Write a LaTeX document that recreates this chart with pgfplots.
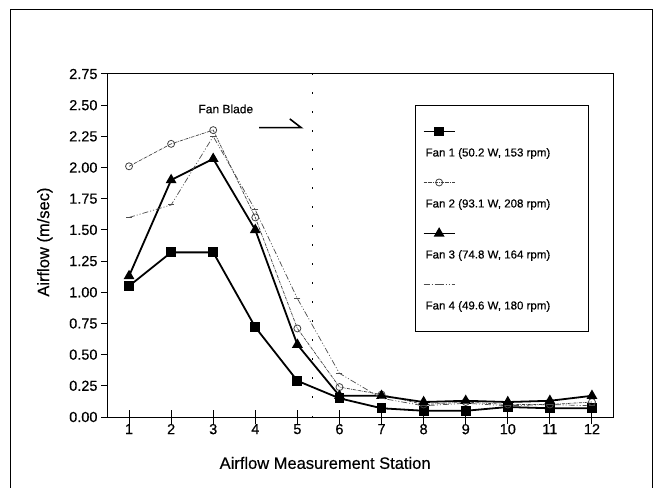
\documentclass[border=0pt]{standalone}
\usepackage{fontspec}
\setmainfont{Liberation Sans}[UprightFeatures={FakeBold=0.4}]
\usepackage{pgfplots}
\pgfplotsset{compat=1.18}
\begin{document}
\begin{tikzpicture}[x=1pt,y=1pt]
\useasboundingbox (0,0) rectangle (657,488);
\draw[line width=1pt] (10,-5) -- (10,478) -- (652,478) -- (652,-5);
\begin{axis}[
  at={(108pt,71pt)}, anchor=south west,
  scale only axis, width=505pt, height=343pt,
  xmin=0.5, xmax=12.5, ymin=0, ymax=2.75,
  xtick={1,2,3,4,5,6,7,8,9,10,11,12},
  ytick={0,0.25,0.5,0.75,1,1.25,1.5,1.75,2,2.25,2.5,2.75},
  axis line style={line width=1pt},
  tick style={line width=1pt, black},
  major tick length=7pt,
  xtick align=center, ytick align=outside,
  xtick pos=bottom, ytick pos=left,
  xtick style={/pgfplots/major tick length=14pt},
  tick label style={font=\fontsize{14.5}{16}\selectfont},
  /pgf/number format/assume math mode=true,
  yticklabel style={/pgf/number format/.cd, fixed, fixed zerofill, precision=2},
  xticklabel style={/pgf/number format/.cd, fixed, precision=0},
  xlabel={Airflow Measurement Station},
  ylabel={Airflow (m/sec)},
  label style={font=\fontsize{16.5}{19}\selectfont},
  xlabel style={at={(axis description cs:0.43,-0.134)}, anchor=center},
  ylabel style={at={(axis description cs:-0.125,0.51)}, anchor=center},
  legend style={at={(rel axis cs:0.608,0.910)}, anchor=north west,
    draw=black, line width=1.2pt, inner xsep=10pt, inner ysep=19pt,
    row sep=16pt, column sep=0pt,
    font=\fontsize{11.5}{13}\selectfont,
    cells={anchor=base west},
    nodes={inner sep=0pt, text height=32pt, text depth=3pt, anchor=base west}},
  legend image code/.code={\draw[mark repeat=2,mark phase=2,#1,overlay] plot coordinates {(-2pt,25pt) (13.5pt,25pt) (29pt,25pt)};},
]
\addplot[black, line width=1.8pt, mark=square*, mark size=4pt, mark options={solid}]
  coordinates {(1,1.05)(2,1.32)(3,1.32)(4,0.72)(5,0.29)(6,0.15)(7,0.07)(8,0.05)(9,0.05)(10,0.08)(11,0.07)(12,0.07)};
\addlegendentry{Fan 1 (50.2 W, 153 rpm)\hspace*{28pt}}
\addplot[black!75, line width=0.7pt, densely dash dot, mark=o, mark size=3.5pt, mark options={solid, line width=0.8pt}]
  coordinates {(1,2.01)(2,2.19)(3,2.30)(4,1.60)(5,0.71)(6,0.24)(7,0.18)(8,0.10)(9,0.12)(10,0.10)(11,0.10)(12,0.12)};
\addlegendentry{Fan 2 (93.1 W, 208 rpm)}
\addplot[black, line width=1.8pt, mark=triangle*, mark size=4.5pt, mark options={solid}]
  coordinates {(1,1.13)(2,1.90)(3,2.07)(4,1.50)(5,0.58)(6,0.17)(7,0.17)(8,0.12)(9,0.13)(10,0.12)(11,0.13)(12,0.17)};
\addlegendentry{Fan 3 (74.8 W, 164 rpm)}
\addplot[black!70, line width=0.7pt, dash pattern=on 6pt off 2pt on 1pt off 2pt on 1pt off 2pt, mark=-, mark size=3pt, mark options={solid, line width=1pt}]
  coordinates {(1,1.60)(2,1.70)(3,2.25)(4,1.66)(5,0.95)(6,0.35)(7,0.15)(8,0.09)(9,0.11)(10,0.09)(11,0.10)(12,0.09)};
\addlegendentry{Fan 4 (49.6 W, 180 rpm)}
\addplot[forget plot, black, line width=1.2pt, dash pattern=on 1.5pt off 17.5pt] coordinates {(5.35,0) (5.35,2.75)};
\node[font=\fontsize{12}{14}\selectfont] at (axis cs:3.3,2.47) {Fan Blade};
\draw[line width=1.6pt] (axis cs:4.09,2.32) -- (axis cs:5.09,2.32) -- (axis cs:4.82,2.39);
\end{axis}
\end{tikzpicture}
\end{document}
